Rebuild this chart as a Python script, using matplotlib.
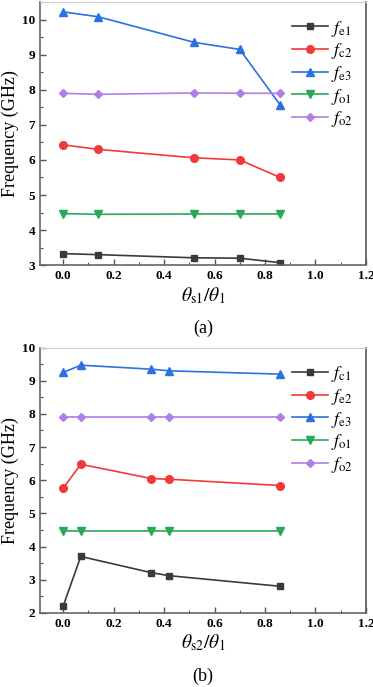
import numpy as np
import matplotlib
matplotlib.use("Agg")
import matplotlib.pyplot as plt
from matplotlib.ticker import MultipleLocator

plt.rcParams["font.family"] = ["Liberation Serif", "DejaVu Serif"]
plt.rcParams["mathtext.fontset"] = "stix"

# panel (a)
x_a = [0.0, 0.14, 0.52, 0.70, 0.86]
fe1_a = [3.33, 3.30, 3.21, 3.20, 3.07]
fe2_a = [6.43, 6.30, 6.06, 6.00, 5.50]
fe3_a = [10.22, 10.08, 9.35, 9.15, 7.57]
fo1_a = [4.47, 4.45, 4.46, 4.46, 4.46]
fo2_a = [7.90, 7.87, 7.91, 7.90, 7.90]
labels_a = [r"$f_{\rm e1}$", r"$f_{\rm c2}$", r"$f_{\rm e3}$", r"$f_{\rm o1}$", r"$f_{\rm o2}$"]

# panel (b)
x_b = [0.0, 0.07, 0.35, 0.42, 0.86]
fe1_b = [2.20, 3.70, 3.21, 3.12, 2.80]
fe2_b = [5.76, 6.48, 6.05, 6.03, 5.84]
fe3_b = [9.25, 9.47, 9.35, 9.30, 9.20]
fo1_b = [4.47, 4.47, 4.47, 4.47, 4.47]
fo2_b = [7.90, 7.90, 7.90, 7.90, 7.90]
labels_b = [r"$f_{\rm c1}$", r"$f_{\rm e2}$", r"$f_{\rm e3}$", r"$f_{\rm o1}$", r"$f_{\rm o2}$"]

xticks = [0.0, 0.2, 0.4, 0.6, 0.8, 1.0, 1.2]

colors = ["#3a3a3a", "#f03a3a", "#2a72e0", "#2aa85a", "#b07ee6"]
markers = ["s", "o", "^", "v", "D"]
msizes = [4.5, 5.5, 5.5, 5.5, 4.5]


def draw_panel(ax, x, series, labels, ylim, xlabel, tag):
    for y, lab, c, m, ms in zip(series, labels, colors, markers, msizes):
        ax.plot(x, y, color=c, marker=m, markersize=ms, lw=1.2, label=lab)
    ax.set_xlim(-0.092, 1.2)
    ax.set_ylim(*ylim)
    ax.set_xticks(xticks, [f"{v:.1f}" for v in xticks], fontweight="bold", fontsize=9.5)
    yt = list(range(int(np.ceil(ylim[0])), int(np.floor(ylim[1])) + 1))
    ax.set_yticks(yt, [str(v) for v in yt], fontweight="bold", fontsize=9.5)
    ax.xaxis.set_minor_locator(MultipleLocator(0.1))
    ax.yaxis.set_minor_locator(MultipleLocator(0.5))
    ax.tick_params(which="both", direction="in", colors="#555555", labelcolor="black")
    ax.tick_params(which="major", length=4, width=1)
    ax.tick_params(which="minor", length=2, width=0.8)
    ax.spines["left"].set_color("#666666")
    ax.spines["bottom"].set_color("#666666")
    ax.spines["left"].set_linewidth(1.2)
    ax.spines["bottom"].set_linewidth(1.2)
    ax.spines["top"].set_color("#cccccc")
    ax.spines["right"].set_color("#555555")
    ax.spines["right"].set_linewidth(1.2)
    ax.set_ylabel("Frequency (GHz)", fontsize=13, labelpad=2)
    ax.set_xlabel(xlabel, fontsize=14, labelpad=2)
    ax.legend(loc="upper right", bbox_to_anchor=(1.0, 0.985), frameon=False,
              fontsize=13, handlelength=2.0, handletextpad=0.2,
              labelspacing=0.15, borderaxespad=0.3)
    ax.text(0.5, -0.24, tag, transform=ax.transAxes, ha="center", va="center",
            fontsize=13)


fig = plt.figure(figsize=(3.73, 6.87), dpi=100)
ax1 = fig.add_axes([0.107, 0.614, 0.874, 0.383])
ax2 = fig.add_axes([0.107, 0.108, 0.874, 0.386])

draw_panel(ax1, x_a, [fe1_a, fe2_a, fe3_a, fo1_a, fo2_a], labels_a, (3, 10.5),
           r"$\theta_{\rm s1}/\theta_1$", "(a)")
draw_panel(ax2, x_b, [fe1_b, fe2_b, fe3_b, fo1_b, fo2_b], labels_b, (2, 10),
           r"$\theta_{\rm s2}/\theta_1$", "(b)")

fig.savefig("out.png", dpi=100)
